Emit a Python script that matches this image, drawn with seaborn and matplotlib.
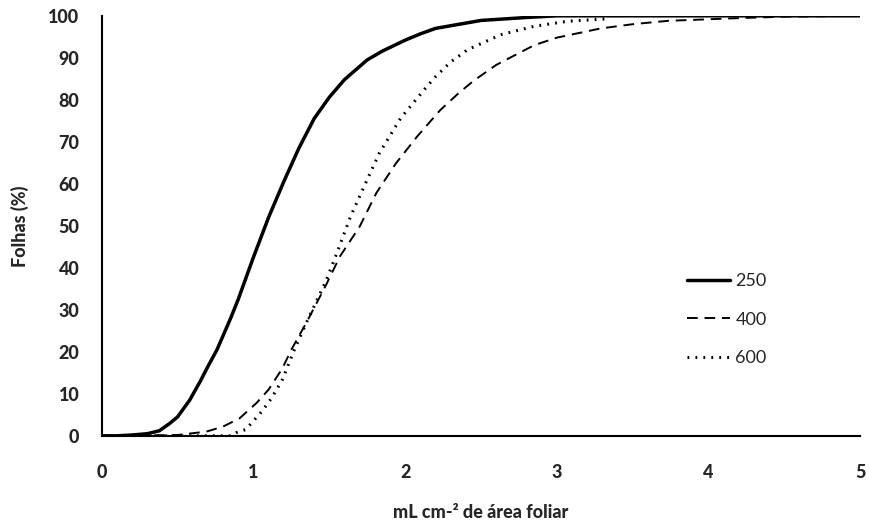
import numpy as np
import pandas as pd
import matplotlib
matplotlib.use("Agg")
import matplotlib.pyplot as plt
import seaborn as sns

# curves (x = mL cm-2, y = % leaves)
x_250 = [0, 0.1, 0.2, 0.3, 0.38, 0.45, 0.5, 0.58, 0.65, 0.7, 0.76, 0.85, 0.9, 1.0,
         1.1, 1.2, 1.25, 1.3, 1.4, 1.5, 1.6, 1.75, 1.85, 2.0, 2.1, 2.2, 2.5, 2.8, 3.0, 4.0, 5.0]
y_250 = [0, 0, 0.2, 0.5, 1.2, 3, 4.5, 8.5, 13, 16.5, 20.5, 28, 32.5, 42.5,
         52, 60.5, 64.5, 68.5, 75.5, 80.6, 84.8, 89.5, 91.6, 94.2, 95.7, 97, 98.9, 99.6, 100, 100, 100]

x_400 = [0, 0.5, 0.69, 0.8, 0.91, 1.02, 1.1, 1.19, 1.25, 1.35, 1.48, 1.57, 1.7, 1.81,
         1.94, 2.08, 2.23, 2.35, 2.45, 2.6, 2.85, 3.0, 3.29, 3.5, 3.73, 4.16, 4.5, 5.0]
y_400 = [0, 0.2, 1, 2.2, 4.2, 7.8, 11, 16, 20.5, 27, 36, 42.7, 49.8, 57.8,
         64.9, 71.3, 77.5, 81.5, 84.5, 88.3, 93, 94.8, 97, 98, 98.8, 99.4, 99.8, 100]

x_600 = [0, 0.85, 0.89, 0.95, 1.06, 1.12, 1.19, 1.27, 1.35, 1.48, 1.55, 1.64, 1.75,
         1.83, 1.97, 2.13, 2.2, 2.3, 2.41, 2.63, 2.85, 3.07, 3.34]
y_600 = [0, 0, 0.8, 1.5, 6, 9, 13.3, 20.5, 27, 37, 43.5, 52.2, 61,
         67.3, 75.6, 82.6, 85.5, 89, 91.9, 95.5, 97.5, 98.7, 99.3]

labels = ["250", "400", "600"]

sns.set_theme(style="white")
plt.rcParams['font.family'] = ['Lato', 'DejaVu Sans']

fig = plt.figure(figsize=(8.69, 5.27), dpi=100)
ax = fig.add_axes([0.117, 0.173, 0.873, 0.797])

sns.lineplot(x=x_250, y=y_250, ax=ax, color="black", lw=2.5, label=labels[0])
sns.lineplot(x=x_400, y=y_400, ax=ax, color="black", lw=1.4, linestyle=(0, (5.5, 3.5)), label=labels[1])
sns.lineplot(x=x_600, y=y_600, ax=ax, color="black", lw=2.2, linestyle=(0, (0.6, 2.0)),
             label=labels[2])

ax.set_xlim(0, 5)
ax.set_ylim(0, 100)
ax.set_xticks(range(0, 6))
ax.set_yticks(range(0, 101, 10))
ax.tick_params(length=0, labelsize=13)
ax.tick_params(axis="x", pad=20)
ax.tick_params(axis="y", pad=16)
for t in ax.get_xticklabels() + ax.get_yticklabels():
    t.set_fontweight("black")

for s in ["top", "right"]:
    ax.spines[s].set_visible(False)
for s in ["left", "bottom"]:
    ax.spines[s].set_color("black")
    ax.spines[s].set_linewidth(1.5)

ax.set_xlabel("mL cm-² de área foliar", fontsize=13, fontweight="black", labelpad=17)
ax.set_ylabel("Folhas (%)", fontsize=13, fontweight="black", labelpad=14)

ax.legend(frameon=False, fontsize=13, loc="upper left", bbox_to_anchor=(0.79, 0.482),
          bbox_transform=fig.transFigure, borderpad=0, borderaxespad=0,
          handlelength=2.4, handletextpad=0.3, labelspacing=1.25)

fig.savefig("out.png", dpi=100, facecolor="white")
